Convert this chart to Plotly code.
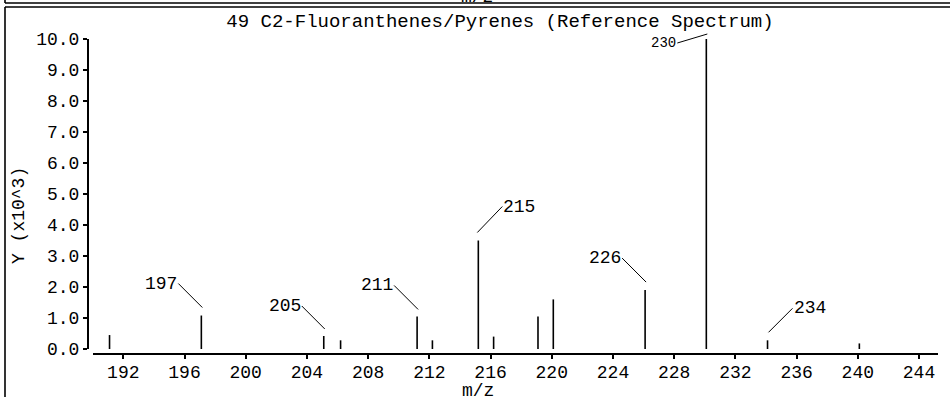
import plotly.graph_objects as go

# ---- data (m/z, intensity in units of 10^3) ----
mz = [191.1, 197.1, 205.1, 206.2, 211.2, 212.2, 215.2, 216.2, 219.1, 220.1, 226.1, 230.1, 234.1, 240.1]
intensity = [0.45, 1.08, 0.42, 0.28, 1.05, 0.28, 3.50, 0.40, 1.05, 1.60, 1.90, 10.0, 0.28, 0.18]

labeled_idx = [1, 2, 4, 6, 10, 11, 12]
label_text = ["197", "205", "211", "215", "226", "230", "234"]

x_ticks = [192, 196, 200, 204, 208, 212, 216, 220, 224, 228, 232, 236, 240, 244]
y_ticks = [0, 1, 2, 3, 4, 5, 6, 7, 8, 9, 10]

title_text = "49 C2-Fluoranthenes/Pyrenes (Reference Spectrum)"
x_title = "m/z"
y_title = "Y (x10^3)"

# ---- layout / styles ----
W, H = 950, 397
L, R, T, B = 88, 12, 39, 43
PW, PH = W - L - R, H - T - B
FONT = "Liberation Mono"

def px(xp):
    return (xp - L) / PW

def py(yp):
    return (H - B - yp) / PH

# label leader geometry: (ax, ay, xshift, yshift, xanchor, font size)
label_style = [
    (-24, -24, 1, 8, "right", 18),
    (-23, -23, 1, 7, "right", 18),
    (-24, -24, 1, 7, "right", 18),
    (25, -26, -1, 8, "left", 18),
    (-24, -24, 1, 8, "right", 18),
    (-30, 9, 1, 5, "right", 14),
    (24, -24, 1, 8, "left", 18),
]

xs, ys = [], []
for m, h in zip(mz, intensity):
    xs += [m, m, None]
    ys += [0, h, None]

fig = go.Figure()
fig.add_trace(go.Scatter(x=xs, y=ys, mode="lines",
                         line=dict(color="black", width=1.6),
                         hoverinfo="skip", showlegend=False))

annotations = []
for idx, txt, st in zip(labeled_idx, label_text, label_style):
    ax, ay, xs_, ys_, xa, fs = st
    annotations.append(dict(
        x=mz[idx], y=intensity[idx], xref="x", yref="y",
        text=txt, showarrow=True, arrowhead=0, arrowwidth=1, arrowcolor="black",
        ax=ax, ay=ay, xanchor=xa, yanchor="middle", xshift=xs_, yshift=ys_,
        standoff=0, borderpad=0,
        font=dict(family=FONT, size=fs, color="black")))

annotations.append(dict(x=px(478), y=py(391), xref="paper", yref="paper",
                        text=x_title, showarrow=False, xanchor="center", yanchor="middle",
                        font=dict(family=FONT, size=18, color="black")))
annotations.append(dict(x=px(19), y=py(216), xref="paper", yref="paper",
                        text=y_title, showarrow=False, textangle=-90,
                        xanchor="center", yanchor="middle",
                        font=dict(family=FONT, size=18, color="black")))
annotations.append(dict(x=px(477), y=py(-3), xref="paper", yref="paper",
                        text=x_title, showarrow=False, xanchor="center", yanchor="middle",
                        font=dict(family=FONT, size=18, color="black")))

frame = dict(color="black", width=1.6)
shapes = [
    dict(type="line", xref="paper", yref="paper", x0=px(5), x1=px(950), y0=py(3), y1=py(3), line=frame),
    dict(type="line", xref="paper", yref="paper", x0=px(5), x1=px(5), y0=py(-2), y1=py(3), line=frame),
    dict(type="line", xref="paper", yref="paper", x0=px(5), x1=px(950), y0=py(7), y1=py(7), line=frame),
    dict(type="line", xref="paper", yref="paper", x0=px(5), x1=px(5), y0=py(7), y1=py(400), line=frame),
]

fig.update_layout(
    width=W, height=H,
    margin=dict(l=L, r=R, t=T, b=B, pad=0),
    paper_bgcolor="white", plot_bgcolor="white",
    title=dict(text=title_text, x=500 / W, xanchor="center", y=1 - 20 / H, yanchor="middle",
               font=dict(family=FONT, size=19, color="black")),
    xaxis=dict(domain=[5 / PW, 1], range=[190.02, 245.24], anchor="free", position=0,
               tickmode="array", tickvals=x_ticks, ticktext=[str(v) for v in x_ticks],
               ticks="outside", ticklen=4, tickwidth=1.5, tickcolor="black",
               ticklabelstandoff=-3,
               showline=True, linecolor="black", linewidth=2,
               showgrid=False, zeroline=False,
               tickfont=dict(family=FONT, size=18, color="black")),
    yaxis=dict(domain=[5 / PH, 1], range=[0, 10], anchor="free", position=0,
               tickmode="array", tickvals=y_ticks, ticktext=[f"{v:.1f}" for v in y_ticks],
               ticks="outside", ticklen=4, tickwidth=1.5, tickcolor="black",
               showline=True, linecolor="black", linewidth=2,
               showgrid=False, zeroline=False,
               tickfont=dict(family=FONT, size=18, color="black")),
    annotations=annotations, shapes=shapes,
    showlegend=False,
)

fig.write_html("out.html",
               config={"displayModeBar": False},
               post_script="document.body.style.margin='0';document.body.style.padding='0';")
